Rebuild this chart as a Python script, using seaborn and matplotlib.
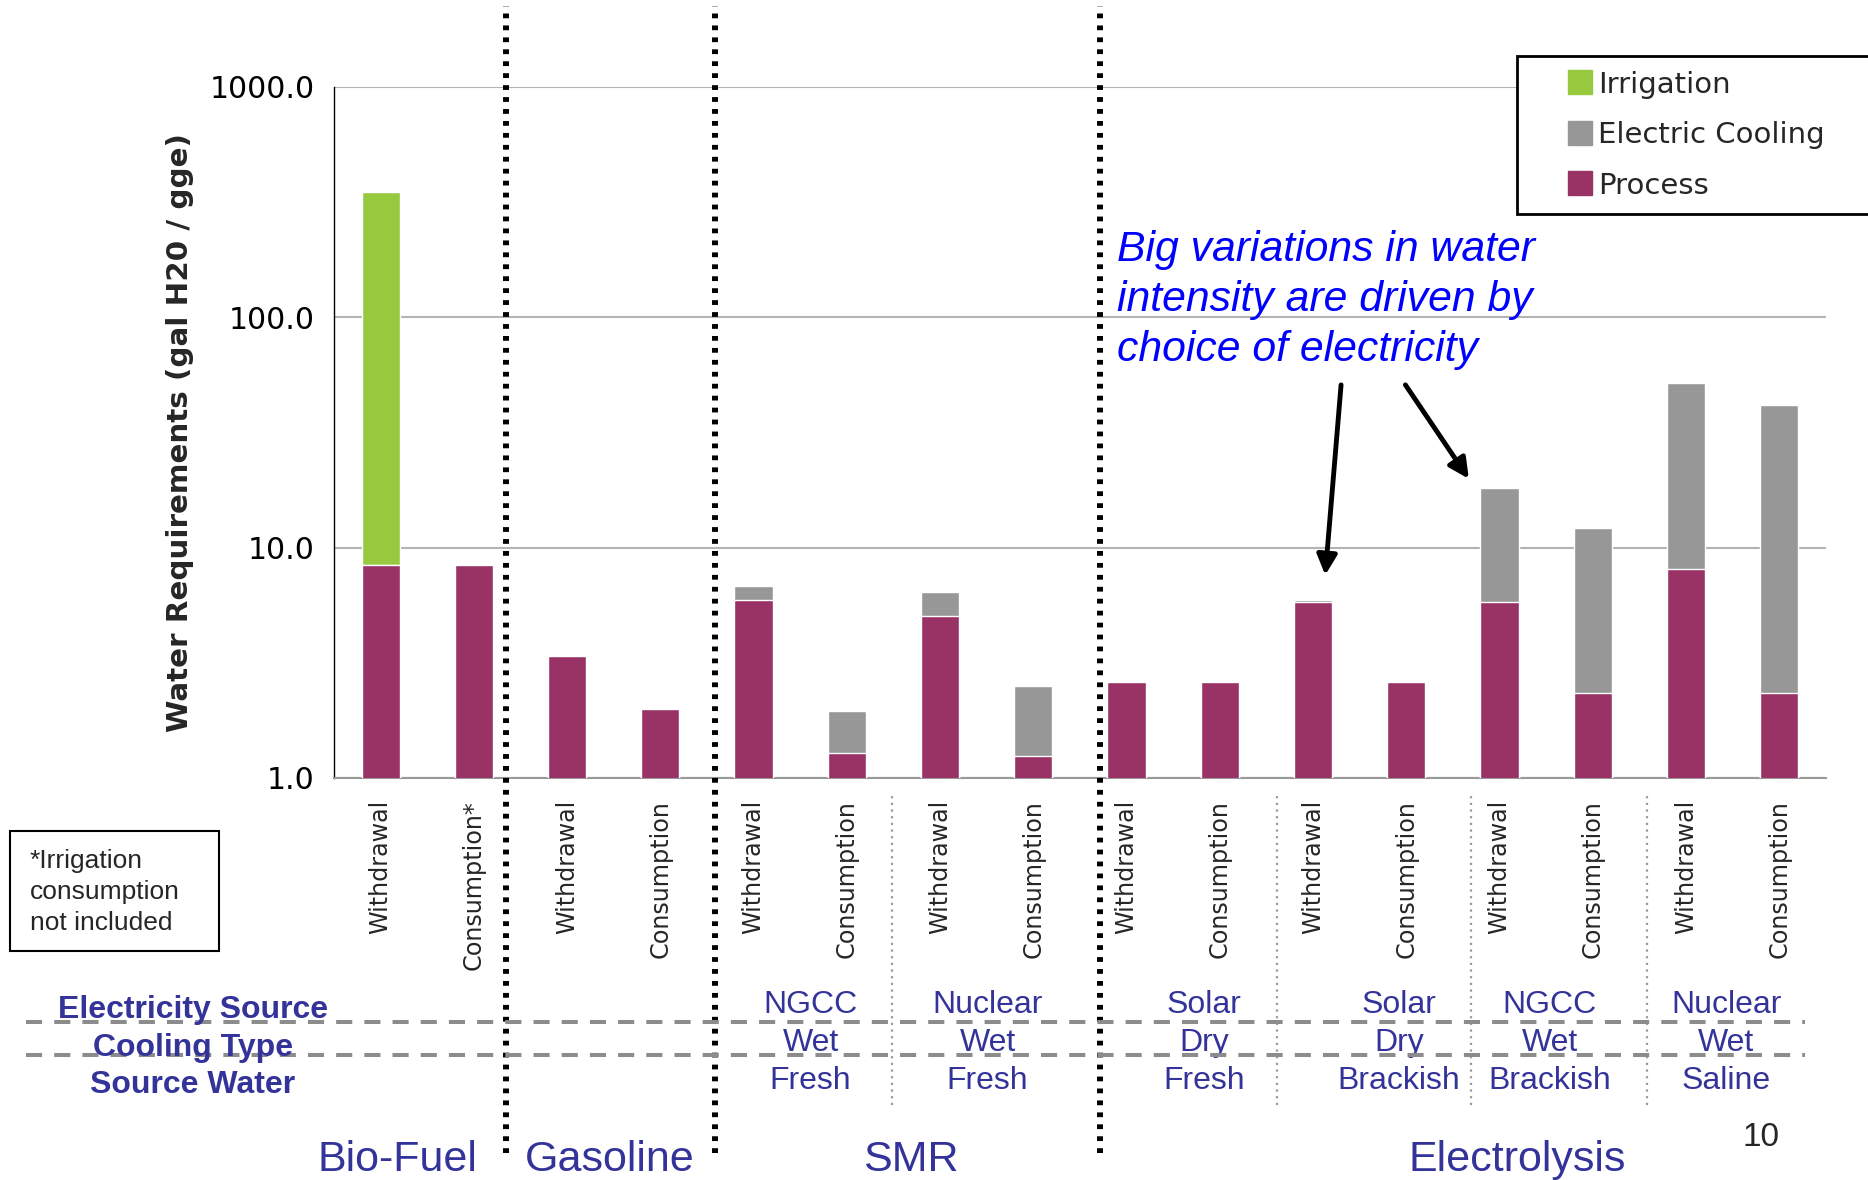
import numpy as np
import pandas as pd
import matplotlib
matplotlib.use("Agg")
import matplotlib.pyplot as plt
import seaborn as sns
from matplotlib.lines import Line2D
from matplotlib.patches import Rectangle
from matplotlib.ticker import FixedLocator, NullLocator
from matplotlib.transforms import blended_transform_factory

sns.set_style("white")
plt.rcParams['font.family'] = ['DejaVu Sans']

# --- data ---
flows = ["Withdrawal", "Consumption*", "Withdrawal", "Consumption",
         "Withdrawal", "Consumption", "Withdrawal", "Consumption",
         "Withdrawal", "Consumption", "Withdrawal", "Consumption",
         "Withdrawal", "Consumption", "Withdrawal", "Consumption"]
process = [8.4, 8.4, 3.4, 2.0, 5.9, 1.28, 5.05, 1.25,
           2.6, 2.6, 5.8, 2.6, 5.8, 2.33, 8.1, 2.33]
cooling = [0, 0, 0, 0, 0.9, 0.67, 1.35, 1.25,
           0, 0, 0.15, 0, 12.3, 9.8, 43.5, 39.3]
irrigation = [342.6, 0, 0, 0, 0, 0, 0, 0,
              0, 0, 0, 0, 0, 0, 0, 0]

families = ["Bio-Fuel", "Gasoline", "SMR", "Electrolysis"]
elec_source = ["NGCC", "Nuclear", "Solar", "Solar", "NGCC", "Nuclear"]
cooling_type = ["Wet", "Wet", "Dry", "Dry", "Wet", "Wet"]
source_water = ["Fresh", "Fresh", "Fresh", "Brackish", "Brackish", "Saline"]
row_titles = ["Electricity Source", "Cooling Type", "Source Water"]
series = ["Irrigation", "Electric Cooling", "Process"]

df = pd.DataFrame({"pos": range(len(flows)), "flow": flows,
                   "process": process, "cooling": cooling, "irrigation": irrigation})
df["with_irr"] = df["process"] + df["irrigation"]
df["with_cool"] = df["process"] + df["cooling"]

# layout (data x positions of labels / separators)
family_x = [0.175, 2.46, 5.69, 12.19]
group_x = [4.61, 6.51, 8.83, 10.92, 12.54, 14.43]
major_sep = [1.34, 3.59, 7.72]
minor_sep = [5.48, 9.61, 11.69, 13.58]

c_proc = "#993366"
c_cool = "#979797"
c_irr = "#96c93d"
c_blue = "#333399"
narrow = ["Liberation Sans", "DejaVu Sans"]

fig = plt.figure(figsize=(18.68, 11.8), dpi=100)
ax = fig.add_axes([0.1788, 0.3407, 0.7987, 0.5856])

sns.barplot(data=df, x="pos", y="with_irr", color=c_irr, width=0.41, saturation=1, ax=ax, zorder=3)
sns.barplot(data=df, x="pos", y="with_cool", color=c_cool, width=0.41, saturation=1, ax=ax, zorder=3)
sns.barplot(data=df, x="pos", y="process", color=c_proc, width=0.41, saturation=1, ax=ax, zorder=3)

ax.set_yscale("log")
ax.set_ylim(1, 1000)
ax.set_xlim(-0.5, len(flows) - 0.5)
ax.yaxis.set_major_locator(FixedLocator([1, 10, 100, 1000]))
ax.yaxis.set_minor_locator(NullLocator())
ax.set_yticklabels(["1.0", "10.0", "100.0", "1000.0"], fontsize=21.5)
ax.tick_params(axis="y", direction="out", length=8, width=1, pad=6, colors="black")
ax.set_xticks(range(len(flows)))
ax.set_xticklabels(flows, rotation=90, fontsize=17.2, va="top", ha="center")
ax.tick_params(axis="x", length=0, pad=16)
ax.set_xlabel("")
ax.set_ylabel("Water Requirements (gal H20 / gge)", fontsize=21.2, fontweight="bold")
ax.yaxis.set_label_coords(-0.094, 0.5)

ax.grid(axis="y", color="#b4b4b4", lw=1.5, zorder=0)
ax.grid(axis="x", visible=False)
for s in ["top", "right"]:
    ax.spines[s].set_visible(False)
ax.spines["left"].set_color("black")
ax.spines["left"].set_linewidth(1)
ax.spines["bottom"].set_color("#999999")
ax.spines["bottom"].set_linewidth(1.5)

# separators
for x in major_sep:
    ax.axvline(x, ymin=-0.543, ymax=1.117, color="black", lw=4.3,
               ls=(0, (0.8, 1.2)), clip_on=False, zorder=5)
for x in minor_sep:
    ax.axvline(x, ymin=-0.473, ymax=-0.02, color="#999999", lw=1.6,
               ls=(0, (1, 2)), clip_on=False, zorder=5)

# dashed horizontal row separators
for yf in [1 - 1022 / 1180, 1 - 1055 / 1180]:
    fig.add_artist(Line2D([26 / 1868, 1805 / 1868], [yf, yf], color="#8c8c8c",
                          lw=2.9, ls=(0, (4, 3)), transform=fig.transFigure))

# row titles and group values
title_y = [1 - 1010 / 1180, 1 - 1048 / 1180, 1 - 1085 / 1180]
value_y = [1 - 1005 / 1180, 1 - 1043 / 1180, 1 - 1081 / 1180]
for t, yf in zip(row_titles, title_y):
    fig.text(193 / 1868, yf, t, ha="center", va="center", fontsize=23,
             fontweight="bold", color=c_blue, family=narrow)
bt = blended_transform_factory(ax.transData, fig.transFigure)
for vals, yf in zip([elec_source, cooling_type, source_water], value_y):
    for x, v in zip(group_x, vals):
        ax.text(x, yf, v, transform=bt, ha="center", va="center", fontsize=23,
                color=c_blue, family=narrow)
for x, f in zip(family_x, families):
    ax.text(x, 1 - 1160 / 1180, f, transform=bt, ha="center", va="center",
            fontsize=31, color=c_blue, family=narrow)

# legend
handles = [Line2D([], [], ls="none", marker="s", markersize=17, color=c, label=l)
           for c, l in zip([c_irr, c_cool, c_proc], series)]
leg = fig.legend(handles=handles, loc="upper left",
                 bbox_to_anchor=(0.812, 0.9525 - 0.2, 0.2, 0.2), mode="expand",
                 fontsize=21, frameon=True, fancybox=False, handlelength=3.3,
                 handletextpad=-1.0, labelspacing=0.77,
                 borderpad=0.5, borderaxespad=0)
leg.get_frame().set_edgecolor("black")
leg.get_frame().set_linewidth(2)
leg.get_frame().set_alpha(1)

# annotation
fig.text(1117 / 1868, 1 - 230 / 1180,
         "Big variations in water\nintensity are driven by\nchoice of electricity",
         ha="left", va="top", fontsize=30.8, style="italic", color="#0000ff",
         family=["Liberation Sans", "DejaVu Sans"], linespacing=1.33)
ax.annotate("", xy=(10.13, 7.6), xytext=(10.30, 50.9),
            arrowprops=dict(arrowstyle="-|>", color="black", lw=3.5,
                            mutation_scale=30, shrinkA=0, shrinkB=0), zorder=6)
ax.annotate("", xy=(11.67, 19.9), xytext=(10.99, 50.9),
            arrowprops=dict(arrowstyle="-|>", color="black", lw=3.5,
                            mutation_scale=30, shrinkA=0, shrinkB=0), zorder=6)

# footnote box
fig.add_artist(Rectangle((10 / 1868, 1 - 951 / 1180), 209 / 1868, 120 / 1180,
                         fill=False, edgecolor="black", lw=1.5, transform=fig.transFigure))
fig.text(30 / 1868, 1 - 892 / 1180, "*Irrigation\nconsumption\nnot included",
         ha="left", va="center", fontsize=19, family=narrow, linespacing=1.36)

fig.text(1761 / 1868, 1 - 1138 / 1180, "10", ha="center", va="center",
         fontsize=24, family=narrow)

fig.savefig("out.png", dpi=100)
